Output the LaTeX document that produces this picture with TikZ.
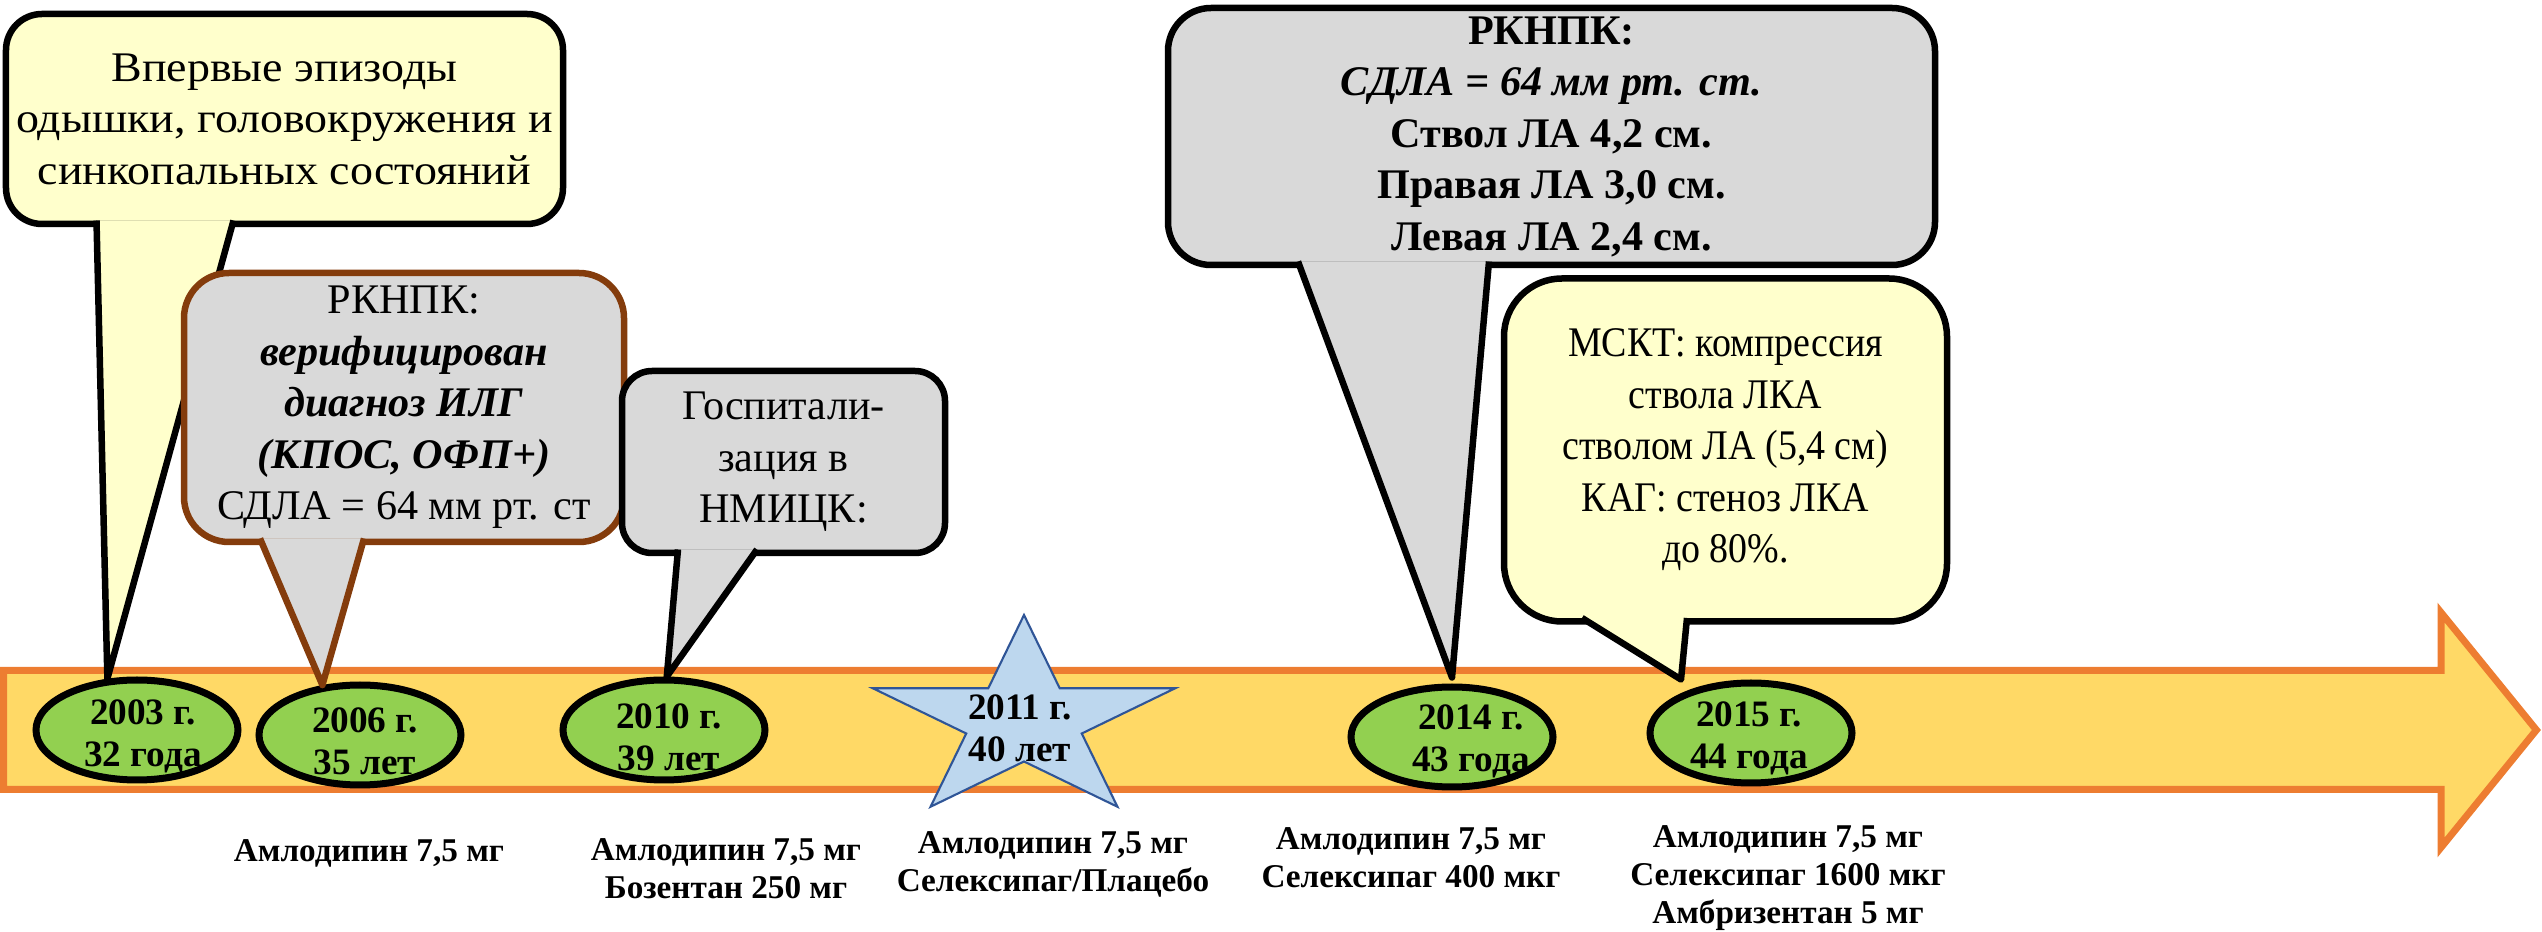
\documentclass[tikz,border=0pt]{standalone}
\usepackage{fontspec}
\setmainfont{Liberation Serif}
\usetikzlibrary{calc,shapes.geometric}
\definecolor{tlorange}{HTML}{ED7D31}
\definecolor{tlband}{HTML}{FFD966}
\definecolor{tlgreen}{HTML}{92D050}
\definecolor{tlgrey}{HTML}{D9D9D9}
\definecolor{tlnote}{HTML}{FFFFCC}
\definecolor{tlbrown}{HTML}{843C0C}
\definecolor{tlstar}{HTML}{BDD7EE}
\definecolor{tlstarline}{HTML}{2F5597}

\begin{document}
\begin{tikzpicture}[
  yearoval/.style={ellipse, draw, line width=0.07cm, fill=tlgreen, minimum width=2.02cm, minimum height=1.0cm, inner sep=0pt},
  yeartext/.style={font=\bfseries\fontsize{10.6}{11.95}\selectfont, align=center, inner sep=0pt},
  notebox/.style={draw, line width=0.065cm, rounded corners=#1, inner sep=0pt, outer sep=0pt, align=center, font=\fontsize{12}{14.65}\selectfont},
  notetail/.style={draw, line width=0.065cm, line join=round},
  drugtext/.style={font=\bfseries\fontsize{9.45}{10.7}\selectfont, align=center, inner sep=0pt}]
  \useasboundingbox (0,0) rectangle (25.42,9.32);
  \draw[line width=0.07cm, tlorange, fill=tlband] (0.035,2.615) -- (24.41,2.615) -- (24.41,3.195) -- (25.364,2.02) -- (24.41,0.845) -- (24.41,1.425) -- (0.035,1.425) -- cycle;
  \foreach \id/\x/\y/\tx/\ty/\txt in {e2003/1.37/2.02/1.43/1.96/{2003 г.\\32 года}, e2006/3.60/1.97/3.65/1.905/{2006 г.\\35 лет}, e2010/6.64/2.02/6.69/1.945/{2010 г.\\39 лет}, e2014/14.52/1.95/14.71/1.91/{2014 г.\\43 года}, e2015/17.51/1.99/17.49/1.94/{2015 г.\\44 года}}{
    \node[yearoval] (\id) at (\x,\y) {};
    \node[yeartext] (\id-l) at (\tx,\ty) {\txt};
  }
  \begin{scope}[shift={(10.24,2.11)}, xscale=1.59, yscale=1.06]
    \draw[tlstarline, fill=tlstar, line width=0.6pt] (90:1) -- (126:0.382) -- (162:1) -- (198:0.382) -- (234:1) -- (270:0.382) -- (306:1) -- (342:0.382) -- (18:1) -- (54:0.382) -- cycle;
  \end{scope}
  \node[yeartext] (s2011) at (10.20,2.035) {2011 г.\\40 лет};
  \node[notebox=0.36cm, fill=tlnote, minimum width=5.57cm, minimum height=2.10cm, font=\fontsize{12}{14.65}\selectfont\addfontfeatures{FakeStretch=1.09}] (c2003) at (2.845,8.13) {Впервые эпизоды\\одышки, головокружения и\\синкопальных состояний};
  \draw[notetail, fill=tlnote] ($(c2003.south west)+(0.905,0.035)$) -- (e2003.120) -- ($(c2003.south west)+(2.275,0.035)$);
  \node[notebox=0.45cm, draw=tlbrown, fill=tlgrey, minimum width=4.40cm, minimum height=2.69cm] (c2006) at (4.04,5.245) {РКНПК:\\\textbf{\textit{верифицирован}}\\\textbf{\textit{диагноз ИЛГ}}\\\textbf{\textit{(КПОС, ОФП+)}}\\СДЛА = 64 мм рт. ст};
  \draw[notetail, draw=tlbrown, fill=tlgrey] ($(c2006.south west)+(0.76,0.035)$) -- (e2006.127) -- ($(c2006.south west)+(1.80,0.035)$);
  \node[notebox=0.30cm, fill=tlgrey, minimum width=3.23cm, minimum height=1.82cm] (c2010) at (7.835,4.70) {Госпитали-\\зация в\\НМИЦК:};
  \draw[notetail, fill=tlgrey] ($(c2010.south west)+(0.56,0.035)$) -- (e2010.87) -- ($(c2010.south west)+(1.35,0.035)$);
  \node[notebox=0.43cm, fill=tlgrey, minimum width=7.67cm, minimum height=2.57cm, font=\fontsize{12}{14.65}\selectfont\bfseries] (c2014) at (15.515,7.955) {РКНПК:\\\textit{СДЛА = 64 мм рт. ст.}\\Ствол ЛА 4,2 см.\\Правая ЛА 3,0 см.\\Левая ЛА 2,4 см.};
  \draw[notetail, fill=tlgrey] ($(c2014.south west)+(1.30,0.035)$) -- ([yshift=0.6mm]e2014.north) -- ($(c2014.south west)+(3.21,0.035)$);
  \node[notebox=0.58cm, fill=tlnote, minimum width=4.43cm, minimum height=3.43cm, font=\fontsize{12}{14.65}\selectfont\addfontfeatures{FakeStretch=0.9}] (c2015) at (17.255,4.82) {МСКТ: компрессия\\ствола ЛКА\\стволом ЛА (5,4 см)\\КАГ: стеноз ЛКА\\до 80\%.};
  \draw[notetail, fill=tlnote] ($(c2015.south west)+(0.78,0.035)$) -- ([xshift=-7mm]e2015.north) -- ($(c2015.south west)+(1.83,0.035)$);
  \node[drugtext] (d2006) at (3.69,0.79) {Амлодипин 7,5 мг};
  \node[drugtext] (d2010) at (7.26,0.63) {Амлодипин 7,5 мг\\Бозентан 250 мг};
  \node[drugtext] (d2011) at (10.53,0.675) {Амлодипин 7,5 мг\\Селексипаг/Плацебо};
  \node[drugtext] (d2014) at (14.11,0.74) {Амлодипин 7,5 мг\\Селексипаг 400 мкг};
  \node[drugtext] (d2015) at (17.88,0.54) {Амлодипин 7,5 мг\\Селексипаг 1600 мкг\\Амбризентан 5 мг};
\end{tikzpicture}
\end{document}
